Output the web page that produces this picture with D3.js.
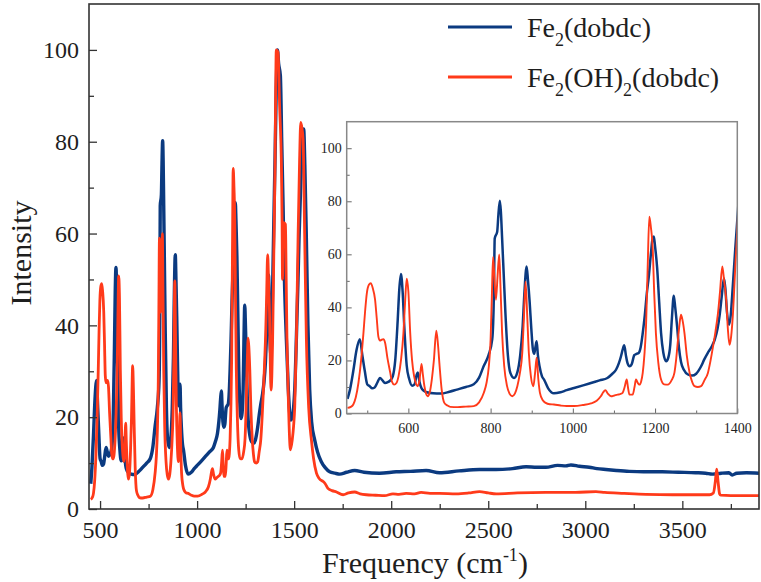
<!DOCTYPE html>
<html><head><meta charset="utf-8">
<script src="https://cdn.jsdelivr.net/npm/d3@7"></script>
<style>
body{margin:0;background:#fff}
svg{display:block}
svg text{font-family:'Liberation Serif','DejaVu Serif',serif !important;fill:#1e1e1e}
</style>
</head><body>
<svg id="c" width="761" height="582" font-family="Liberation Serif, serif"></svg>
<script>
// ---- data (frequency cm-1, intensity) ----
const seriesNames = ["Fe2(dobdc)", "Fe2(OH)2(dobdc)"];
const fe2Dobdc = [[452,5.5],[458,9],[466,16],[474,24],[482,28],[488,22],[494,16],[500,11],[506,10.3],[512,9.5],[518,9.8],[524,11.5],[531,13.4],[537,12.5],[543,11.5],[550,11.8],[556,12.5],[562,14],[568,20],[574,35],[578,47],[582,52.6],[586,46],[590,33],[596,18],[602,13],[609,10.5],[615,11],[620,14.5],[623,15.5],[627,12],[632,9.5],[637,8.6],[645,8],[660,7.6],[678,7.5],[700,8.2],[718,9],[740,10],[759,11],[772,13.5],[783,17.8],[795,22],[804,28],[808,45],[810,66],[816,68.5],[819,75],[822.5,80.2],[825,76],[828,66],[832,52],[836,38],[842,22],[848,15.3],[857,13.4],[865,15.5],[872,22],[878,33],[882,45],[887.6,55.4],[891,50],[895,42],[899,32],[903,24],[906,22.5],[909,25],[912,27.2],[915,22],[919,17.8],[925,14],[930,12.8],[940,9.5],[954,7.6],[970,8],[985,8.8],[1003,9.6],[1025,10.6],[1044,11.5],[1065,12.5],[1084,13.4],[1095,14.8],[1105,16.5],[1112,19],[1117,21.5],[1121,24],[1125,25.7],[1129,22],[1133,19],[1138,17.8],[1143,18.5],[1149.5,22],[1155,22.5],[1160,22.8],[1165,25],[1170,30.3],[1175,37],[1180,45.4],[1185,52],[1190,60.4],[1194,66],[1197,66.7],[1200,63],[1205,55],[1210,42],[1214.6,30.3],[1220,23],[1227,19.7],[1232,21],[1237,26],[1241,36],[1245.5,44.4],[1249,40],[1253.6,32.8],[1258,25],[1263,19.5],[1270,16.5],[1280,14.7],[1290,14.3],[1300,15],[1312,17.8],[1320,20.5],[1328,22.8],[1337,25],[1345,27.8],[1352,32],[1357,37],[1362,44],[1367.5,51],[1371,47],[1375,38],[1380,33.5],[1384,37],[1389,47.9],[1395,62],[1401.7,76.7],[1408,92],[1414,100],[1420,97],[1429,94.4],[1436,80],[1443,66],[1450,50],[1460,36.9],[1470,26],[1482,19.4],[1490,20],[1497,22],[1503,26],[1512,38],[1520,50],[1525,58.7],[1535,72],[1542,80],[1549,82.8],[1555,75],[1563,58.7],[1571,40],[1580,26],[1590,19],[1606,15],[1620,12.5],[1640,10.3],[1660,9],[1683,8.1],[1710,7.8],[1735,7.6],[1770,8],[1812,8.4],[1860,8],[1940,7.8],[2026,8.1],[2100,8.2],[2180,8.4],[2249,7.9],[2350,8.3],[2455,8.6],[2540,8.6],[2625,8.8],[2695,9.2],[2750,9.1],[2797,9.1],[2857,9.5],[2900,9.4],[2926,9.6],[2970,9.3],[3020,9.1],[3060,8.8],[3106,8.6],[3160,8.4],[3226,8.2],[3300,8.1],[3397,8.1],[3480,8],[3569,7.9],[3620,7.8],[3655,7.6],[3700,7.8],[3740,7.9],[3757,7.4],[3780,7.8],[3830,7.9],[3895,7.8]];
const fe2OH2Dobdc = [[452,2.1],[460,2.5],[466,3.4],[472,6],[478.5,11.5],[485,20],[490.7,30.3],[495,39],[499,45.4],[504,48.5],[508.6,49.1],[513,47.5],[519,42.9],[523,36],[527,29],[531,27.5],[535,27.8],[539,28],[543.5,26.6],[549,21],[556,15.3],[560,12],[565.5,10.9],[571,11.5],[576,14],[582,20],[588,30.3],[592,42],[596,50.8],[600,46],[604.5,30.3],[609,20],[614,14],[618,11.5],[622.5,10.3],[627,12.5],[632,18.7],[635,15],[639,10.3],[643,7.5],[647,6.5],[652,8],[657,12.8],[662,20],[668,31.2],[672,26],[676,17.8],[681,9],[687.5,4],[695,3],[702,2.5],[720,2.4],[740,2.6],[759,2.8],[772,4.2],[783.5,7.8],[790,11.5],[795.7,17.8],[800,28],[803,44],[806,59],[809,52],[813,42.9],[817,52],[821,60],[824,48],[828,30.3],[833,18],[840,10.3],[846,7.5],[852.6,6.5],[859,7.5],[865,10.3],[871,15],[877,22.8],[881,36],[885,49.7],[889,37],[893,22.8],[898,14],[904,10.3],[908,15],[912,21],[916,13],[920,7.8],[927,5],[934,4],[944,3.5],[954,3.4],[970,3],[985,2.8],[1003,2.8],[1025,3.2],[1044,3.8],[1058,4.8],[1068,6.5],[1074,8],[1079,8.8],[1085,7.5],[1093,6.5],[1101,6.8],[1109,7.1],[1115,7.3],[1121,7.8],[1126,10],[1131,12.8],[1134,10],[1137.6,7.1],[1145.5,7.1],[1150,10],[1153.6,12.8],[1158,11.5],[1162,10.9],[1166,12],[1170,15.3],[1174,22],[1178,32.8],[1182,55],[1186,74.2],[1190,70],[1194,63],[1198,45],[1202,30.3],[1208,19],[1214.6,12.8],[1222,11],[1231,10.9],[1240,12.5],[1247,15.3],[1251,20],[1255,26.6],[1259,33],[1263,37.2],[1267,35],[1271.5,30.3],[1277,22],[1284,15.3],[1290,12],[1296,10.3],[1304,10],[1312,10.3],[1320,12.5],[1328.5,15.3],[1335,20],[1341,25.3],[1347,31],[1353,37.8],[1358,46],[1363.5,55.4],[1368,50],[1373,42.9],[1377,32],[1381,25.9],[1385,29],[1389,36.6],[1395,55],[1401.7,75.4],[1405,92],[1408,100],[1417,99.5],[1425,88],[1435,73.3],[1438,62],[1440,50],[1443,58],[1447,62.4],[1455,62],[1459,50],[1463,36.9],[1470,24],[1481,12.9],[1490,15],[1497,18],[1503,22.3],[1512,38],[1520,58.7],[1528,76],[1534,84.2],[1540,83],[1546,80.6],[1554,60],[1563,36.9],[1575,22],[1589,15],[1600,11],[1615,7.8],[1630,6.6],[1649,6],[1660,5.5],[1674,4.5],[1695,4],[1718,3.7],[1752,3.1],[1780,3.5],[1812,3.7],[1840,3.3],[1872,3.1],[1920,3],[1966,2.9],[2009,3.3],[2040,3.2],[2077,3.4],[2120,3.3],[2154,3.6],[2200,3.4],[2249,3.4],[2335,3.3],[2400,3.5],[2455,3.8],[2500,3.5],[2541,3.3],[2650,3.5],[2797,3.6],[2950,3.6],[3055,3.8],[3100,3.6],[3200,3.4],[3312,3.2],[3450,3.1],[3569,3.1],[3640,3.1],[3660,3.5],[3670,6],[3677,8.7],[3684,6],[3692,3.3],[3698,3.0],[3750,2.9],[3830,2.9],[3895,2.9]];

const mainXTicks = [500,1000,1500,2000,2500,3000,3500];
const mainXMinor = [750,1250,1750,2250,2750,3250,3750];
const mainYTicks = [0,20,40,60,80,100];
const mainYMinor = [10,30,50,70,90];
const insetXTicks = [600,800,1000,1200,1400];
const insetXMinor = [500,700,900,1100,1300];
const insetYTicks = [0,20,40,60,80,100];
const insetYMinor = [10,30,50,70,90];
const xTitle = "Frequency (cm";
const yTitle = "Intensity";

const colors = ["#0b3a80", "#ff3a1a"];
const series = [fe2Dobdc, fe2OH2Dobdc];
const FONT = "'Liberation Serif', 'DejaVu Serif', serif";

const svg = d3.select("#c");

// ---- main plot ----
const M = {l:89, t:4, r:759, b:509};
const x = d3.scaleLinear().domain([443, 3895]).range([M.l, M.r]);
const y = d3.scaleLinear().domain([0, 110]).range([M.b, M.t]);

svg.append("clipPath").attr("id","mclip").append("rect")
  .attr("x",M.l).attr("y",M.t).attr("width",M.r-M.l).attr("height",M.b-M.t);

const line = d3.line().x(d=>x(d[0])).y(d=>y(d[1])).curve(d3.curveMonotoneX);
const mg = svg.append("g").attr("clip-path","url(#mclip)");
series.forEach((s,i)=>{
  mg.append("path").datum(s).attr("d",line).attr("fill","none")
    .attr("stroke",colors[i]).attr("stroke-width", i===0?3.4:2.8)
    .attr("stroke-linejoin","round");
});

function styleAxis(g, fs){
  g.attr("font-family", FONT);
  g.selectAll("text").style("font-size", fs+"px").style("font-family",FONT).attr("fill","#1e1e1e");
  g.selectAll("line").attr("stroke","#333").attr("stroke-width",1.3);
  g.select(".domain").remove();
}
const gx = svg.append("g").attr("transform",`translate(0,${M.b})`)
  .call(d3.axisBottom(x).tickValues(mainXTicks).tickSize(-8).tickPadding(12).tickFormat(d3.format("d")));
styleAxis(gx,24);
const gxm = svg.append("g").attr("transform",`translate(0,${M.b})`)
  .call(d3.axisBottom(x).tickValues(mainXMinor).tickSize(-5).tickFormat(""));
styleAxis(gxm,24);
const gy = svg.append("g").attr("transform",`translate(${M.l},0)`)
  .call(d3.axisLeft(y).tickValues(mainYTicks).tickSize(-8).tickPadding(10).tickFormat(d3.format("d")));
styleAxis(gy,24);
const gym = svg.append("g").attr("transform",`translate(${M.l},0)`)
  .call(d3.axisLeft(y).tickValues(mainYMinor).tickSize(-5).tickFormat(""));
styleAxis(gym,24);

svg.append("rect").attr("x",M.l).attr("y",M.t).attr("width",M.r-M.l).attr("height",M.b-M.t)
  .attr("fill","none").attr("stroke","#333").attr("stroke-width",1.6);

// axis titles
const xt = svg.append("text").attr("x",425).attr("y",573).attr("text-anchor","middle")
  .style("font-size","30px").style("font-family",FONT);
xt.append("tspan").text(xTitle);
xt.append("tspan").text("-1").attr("dy",-12).style("font-size","18px");
xt.append("tspan").text(")").attr("dy",12);
svg.append("text").attr("transform","translate(31,253) rotate(-90)").attr("text-anchor","middle")
  .style("font-size","30px").style("font-family",FONT).text(yTitle);

// legend
const legY = [27, 77];
const legParts = [
  [["Fe",0],["2",1],["(dobdc)",0]],
  [["Fe",0],["2",1],["(OH)",0],["2",1],["(dobdc)",0]]
];
legParts.forEach((parts,i)=>{
  svg.append("line").attr("x1",448).attr("x2",512).attr("y1",legY[i]).attr("y2",legY[i])
    .attr("stroke",colors[i]).attr("stroke-width",3);
  const t = svg.append("text").attr("x",527).attr("y",legY[i]+10)
    .style("font-size","28px").style("font-family",FONT);
  let sub=false;
  parts.forEach(p=>{
    const ts = t.append("tspan").text(p[0]);
    if(p[1]===1 && !sub){ ts.attr("dy",9).style("font-size","18px"); sub=true; }
    else if(p[1]===0 && sub){ ts.attr("dy",-9); sub=false; }
  });
});

// ---- inset ----
const I = {l:346.7, t:121.7, r:737.3, b:413.5};
const xi = d3.scaleLinear().domain([450,1400]).range([I.l, I.r]);
const yi = d3.scaleLinear().domain([0,110]).range([I.b, I.t]);
svg.append("rect").attr("x",I.l).attr("y",I.t).attr("width",I.r-I.l).attr("height",I.b-I.t).attr("fill","#fff");
svg.append("clipPath").attr("id","iclip").append("rect")
  .attr("x",I.l).attr("y",I.t).attr("width",I.r-I.l).attr("height",I.b-I.t);
const linei = d3.line().x(d=>xi(d[0])).y(d=>yi(d[1])).curve(d3.curveMonotoneX);
const ig = svg.append("g").attr("clip-path","url(#iclip)");
series.forEach((s,i)=>{
  ig.append("path").datum(s).attr("d",linei).attr("fill","none")
    .attr("stroke",colors[i]).attr("stroke-width", i===0?2.5:1.9)
    .attr("stroke-linejoin","round");
});
function styleInset(g){
  g.attr("font-family", FONT);
  g.selectAll("text").style("font-size","14px").style("font-family",FONT).attr("fill","#333");
  g.selectAll("line").attr("stroke","#666").attr("stroke-width",1);
  g.select(".domain").remove();
}
const ix = svg.append("g").attr("transform",`translate(0,${I.b})`)
  .call(d3.axisBottom(xi).tickValues(insetXTicks).tickSize(-5).tickPadding(10).tickFormat(d3.format("d")));
styleInset(ix);
const ixm = svg.append("g").attr("transform",`translate(0,${I.b})`)
  .call(d3.axisBottom(xi).tickValues(insetXMinor).tickSize(-3).tickFormat(""));
styleInset(ixm);
const iy = svg.append("g").attr("transform",`translate(${I.l},0)`)
  .call(d3.axisLeft(yi).tickValues(insetYTicks).tickSize(-5).tickPadding(5).tickFormat(d3.format("d")));
styleInset(iy);
const iym = svg.append("g").attr("transform",`translate(${I.l},0)`)
  .call(d3.axisLeft(yi).tickValues(insetYMinor).tickSize(-3).tickFormat(""));
styleInset(iym);
svg.append("rect").attr("x",I.l).attr("y",I.t).attr("width",I.r-I.l).attr("height",I.b-I.t)
  .attr("fill","none").attr("stroke","#888").attr("stroke-width",1.5);
</script>
</body></html>
